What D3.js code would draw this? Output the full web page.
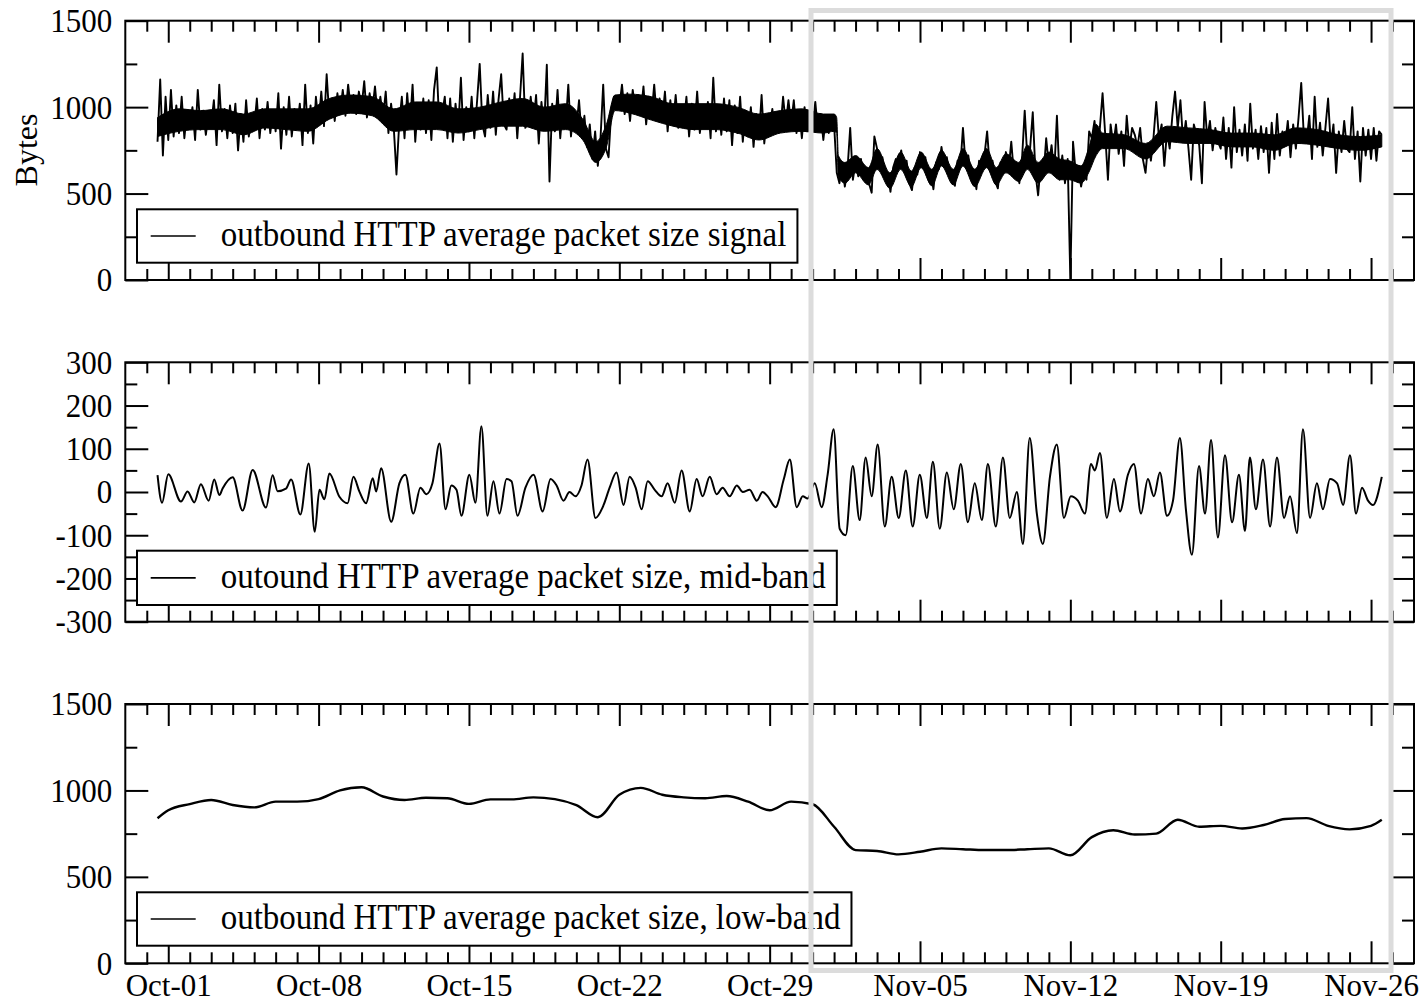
<!DOCTYPE html>
<html><head><meta charset="utf-8">
<script src="https://cdn.jsdelivr.net/npm/d3@7"></script>
<style>
body{margin:0;background:#fff;}
svg text{font-family:"Liberation Serif","Times New Roman",serif;}
svg text.stretch{transform-box:fill-box;transform-origin:center;transform:scaleY(1.1);}
</style></head><body>
<svg id="chart" width="1427" height="1003"></svg>
<script>
// ---------------- DATA ----------------
// x-axis range and ticks
const xStart = Date.UTC(2007, 8, 29);
const xEnd = Date.UTC(2007, 10, 28);
const xTickFormat = "%b-%d";

// top panel: outbound HTTP average packet size (bytes), 3-hour samples from Sep-30 12:00
const signalStart = Date.UTC(2007, 8, 30, 12);
const signalStepHours = 3;
const signalBytes = [
  800, 1160, 720, 1060,                         // Sep-30 pm
  810, 1100, 830, 1010, 850, 1060, 820, 980,    // Oct-01
  880, 1000, 810, 1100, 870, 980, 840, 960,     // Oct-02
  900, 1040, 780, 1130, 860, 990, 820, 1010,    // Oct-03
  850, 1020, 750, 960, 800, 1040, 830, 940,     // Oct-04
  880, 1050, 820, 990, 870, 1030, 850, 980,     // Oct-05
  860, 1080, 760, 1000, 840, 1060, 830, 990,    // Oct-06
  880, 1020, 780, 1130, 850, 1010, 790, 1060,   // Oct-07
  900, 1090, 890, 1190, 940, 1050, 920, 1080,   // Oct-08
  970, 1100, 950, 1130, 990, 1070, 960, 1090,   // Oct-09
  1000, 1150, 940, 1080, 980, 1120, 950, 1060,  // Oct-10
  940, 1090, 850, 1020, 880, 610, 900, 1060,    // Oct-11
  820, 1080, 880, 1130, 800, 1020, 870, 1050,   // Oct-12
  850, 1040, 810, 1100, 1230, 880, 960, 1060,   // Oct-13
  820, 1050, 800, 1020, 870, 1170, 810, 1000,   // Oct-14
  860, 1060, 820, 1030, 1250, 900, 830, 1070,   // Oct-15
  880, 1090, 840, 1040, 1190, 900, 870, 1050,   // Oct-16
  900, 1080, 820, 1050, 1310, 880, 910, 1060,   // Oct-17
  900, 1070, 790, 1030, 880, 1245, 570, 1020,   // Oct-18
  860, 1100, 820, 1010, 880, 1130, 830, 990,    // Oct-19
  880, 1040, 830, 950, 770, 900, 700, 860,      // Oct-20
  660, 820, 1130, 760, 710, 980, 1060, 1010,    // Oct-21
  1000, 1130, 960, 1080, 920, 1100, 980, 1070,  // Oct-22
  960, 1120, 900, 1060, 950, 1130, 930, 1050,   // Oct-23
  930, 1090, 860, 1040, 900, 1070, 880, 1010,   // Oct-24
  900, 1060, 830, 1020, 870, 1090, 850, 990,    // Oct-25
  880, 1030, 820, 1170, 860, 1010, 840, 1050,   // Oct-26
  860, 1040, 780, 1010, 850, 1060, 800, 980,    // Oct-27
  830, 1000, 770, 960, 820, 1070, 790, 950,     // Oct-28
  880, 990, 850, 960, 870, 1060, 900, 1040,     // Oct-29
  900, 1040, 850, 980, 820, 1000, 860, 990,     // Oct-30
  880, 1030, 860, 960, 810, 950, 850, 940,      // Oct-31
  900, 620, 560, 680, 540, 640, 880, 580,       // Nov-01
  680, 600, 700, 580, 640, 560, 505, 830,       // Nov-02
  760, 640, 710, 590, 620, 510, 650, 700,       // Nov-03
  660, 750, 640, 690, 560, 520, 650, 610,       // Nov-04
  740, 650, 710, 590, 630, 525, 680, 640,       // Nov-05
  770, 660, 710, 600, 620, 545, 690, 650,       // Nov-06
  880, 660, 720, 600, 640, 525, 690, 660,       // Nov-07
  720, 860, 650, 690, 570, 530, 680, 640,       // Nov-08
  740, 640, 800, 610, 660, 560, 700, 980,       // Nov-09
  700, 760, 970, 620, 490, 680, 600, 820,       // Nov-10
  660, 780, 620, 950, 580, 720, 560, 700,       // Nov-11
  0, 800, 620, 660, 540, 620, 580, 860,         // Nov-12
  820, 920, 760, 880, 1080, 840, 580, 900,      // Nov-13
  780, 900, 730, 860, 660, 950, 760, 880,       // Nov-14
  840, 770, 880, 700, 620, 790, 690, 830,       // Nov-15
  1030, 820, 900, 660, 860, 760, 950, 1090,     // Nov-16
  880, 1040, 800, 920, 760, 580, 900, 840,      // Nov-17
  780, 560, 1030, 820, 920, 750, 880, 800,      // Nov-18
  760, 940, 700, 880, 650, 1000, 740, 870,      // Nov-19
  720, 900, 690, 1020, 760, 870, 700, 890,      // Nov-20
  740, 880, 620, 910, 700, 960, 720, 860,       // Nov-21
  780, 920, 710, 900, 760, 940, 1140, 820,      // Nov-22
  800, 950, 700, 1060, 770, 910, 720, 880,      // Nov-23
  1050, 780, 900, 620, 860, 740, 920, 760,      // Nov-24
  740, 1000, 700, 860, 570, 880, 720, 870,      // Nov-25
  700, 880, 690, 860, 840                       // Nov-26 am
];

// top panel: dense core of the signal (days since Oct-01, low edge, high edge in bytes)
const signalCoreDay = [-0.5,0.5,1.5,2.5,3.5,4.5,5.5,6.5,7.5,8.5,9.5,10.5,11.5,12.5,13.5,14.5,15.5,16.5,17.5,18.5,19.3,19.9,20.4,20.8,
  21.5,22.5,23.5,24.5,25.5,26.5,27.5,28.5,29.5,30.5,31.0,31.12,31.2,31.5,32.0,32.6,33.0,33.6,34.1,34.6,35.05,35.55,36.0,36.55,
  37.0,37.55,38.1,38.55,39.0,39.6,40.0,40.5,41.0,41.5,41.95,42.5,42.85,43.2,43.5,44.5,45.5,46.5,47.5,48.5,49.5,50.5,51.5,52.5,
  53.5,54.5,55.5,56.5];
const signalCoreLow = [830,860,870,870,840,880,870,860,930,965,950,860,870,870,850,870,890,890,860,870,810,680,770,980,
  965,925,890,870,870,850,810,850,860,850,860,850,600,560,620,550,640,530,640,540,650,545,660,550,
  660,540,650,550,620,570,640,560,620,580,580,560,620,720,760,760,700,800,790,790,770,770,750,790,
  780,760,750,770];
const signalCoreHigh = [940,990,980,990,960,990,990,990,1050,1070,1060,990,1030,1030,990,1000,1030,1050,1000,1020,930,800,900,1070,
  1075,1060,1020,1020,1020,1000,960,980,990,960,960,940,720,680,720,650,760,620,740,630,740,640,750,640,
  760,640,760,650,730,680,780,680,740,700,690,660,760,900,850,840,790,890,880,870,850,850,840,880,
  870,840,830,840];

// middle panel: mid-band turning points (days since Oct-01, value)
const midBandDay = [-0.50,-0.29,0.00,0.59,0.90,1.21,1.52,1.88,2.14,2.38,2.53,3.00,3.46,3.93,4.55,4.86,5.09,5.48,5.72,6.15,
  6.54,6.82,7.04,7.27,7.50,7.97,8.35,8.62,8.90,9.21,9.52,9.68,9.91,10.38,
  10.76,11.04,11.41,11.74,12.02,12.30,12.63,12.91,13.18,13.42,13.65,14.02,14.30,14.58,14.86,15.14,15.42,15.75,15.98,16.26,
  16.63,17.01,17.43,17.80,18.08,18.40,18.68,18.96,19.24,19.52,19.89,20.27,20.55,20.87,21.20,21.48,21.76,22.04,22.32,22.65,
  22.97,23.25,23.58,23.90,24.28,24.60,24.88,25.21,25.53,25.81,26.14,26.47,26.75,27.07,27.40,27.67,27.91,28.28,28.66,28.94,
  29.26,29.54,29.77,30.10,30.42,30.70,30.98,31.26,31.54,31.87,32.19,32.47,32.75,33.03,33.36,33.68,34.01,34.34,34.66,34.99,
  35.32,35.60,35.92,36.25,36.57,36.90,37.23,37.55,37.88,38.16,38.53,38.86,39.18,39.51,39.79,40.11,40.44,40.72,41.05,41.37,
  41.70,42.02,42.35,42.68,42.96,43.14,43.38,43.70,44.03,44.31,44.68,44.96,45.29,45.61,45.89,46.17,46.50,46.78,47.10,47.38,
  47.66,47.99,48.27,48.55,48.87,49.20,49.53,49.85,50.13,50.36,50.64,50.97,51.30,51.62,51.95,52.23,52.55,52.83,53.16,53.48,
  53.76,54.09,54.42,54.70,55.02,55.30,55.58,55.86,56.09,56.50];
const midBandValue = [39,-25,41,-22,1,-24,18,-20,29,-7,8,34,-43,51,-36,39,2,8,29,-52,
  66,-92,5,-17,43,-11,-26,35,1,-26,32,1,55,-69,
  20,40,-50,10,-5,20,112,-40,15,5,-55,40,-25,152,-55,25,-50,30,25,-55,
  10,40,-45,30,15,-20,0,-10,15,75,-60,-30,10,45,-30,35,10,-40,25,5,
  -10,20,-25,50,-45,30,-10,35,-5,10,-10,15,0,5,-20,0,-10,-35,30,75,
  -35,-10,-15,20,-35,40,145,-85,-100,60,-65,80,-10,110,-80,35,-60,50,-80,40,
  -60,70,-85,45,-40,65,-70,20,-65,65,-80,80,-60,0,-120,125,-50,-120,35,110,
  -60,-10,-20,-50,65,50,90,-60,30,-45,40,65,-50,30,-10,45,-55,-20,125,-40,
  -145,60,-50,120,-105,85,-70,40,-90,80,-40,75,-80,80,-60,-10,-95,145,-60,20,
  -40,30,20,-30,85,-50,10,-20,-30,35];

// bottom panel: low-band, daily readings (days since Oct-01, bytes)
const lowBandDay = [-0.5,0,1,2,3,4,5,6,7,8,9,10,11,12,13,14,15,16,17,18,19,20,21,22,23,24,25,26,27,28,29,
  30,31,32,33,34,35,36,37,38,39,40,41,42,43,44,45,46,47,48,49,50,51,52,53,54,55,56,56.5];
const lowBandValue = [839,885,921,945,916,902,935,935,950,1000,1018,965,945,958,955,922,948,948,960,950,915,845,975,1015,975,960,955,968,935,885,935,
  920,790,655,650,630,645,665,660,655,655,660,665,625,730,770,745,750,830,790,795,780,800,835,840,795,775,795,830];

// axis ticks
const topTicksMajor = [0, 500, 1000, 1500], topTicksMinor = [250, 750, 1250];
const midTicksMajor = [-300, -200, -100, 0, 100, 200, 300], midTicksMinor = [-250, -150, -50, 50, 150, 250];
const lowTicksMajor = [0, 500, 1000, 1500], lowTicksMinor = [250, 750, 1250];
const legendLabels = ["outbound HTTP average packet size signal",
                      "outound HTTP average packet size, mid-band",
                      "outbound HTTP average packet size, low-band"];
const yAxisTitle = "Bytes";

// ---------------- LAYOUT ----------------
const L = 125.3, R = 1414;
const panelsLayout = [
  {top: 20.7, bottom: 280, domain: [0, 1500], major: topTicksMajor, minor: topTicksMinor, lgTop: 209.3, lgBottom: 262.7},
  {top: 362.3, bottom: 621.7, domain: [-300, 300], major: midTicksMajor, minor: midTicksMinor, lgTop: 550.7, lgBottom: 605},
  {top: 704, bottom: 963.3, domain: [0, 1500], major: lowTicksMajor, minor: lowTicksMinor, lgTop: 892.3, lgBottom: 945.7}
];
const FONT = '"Liberation Serif","Times New Roman",serif';

const svg = d3.select("#chart");
const x = d3.scaleUtc().domain([new Date(xStart), new Date(xEnd)]).range([L, R]);
const oct01 = Date.UTC(2007, 9, 1);
const dayMs = 86400000;
const dayToDate = d => new Date(oct01 + d * dayMs);

const mondays = d3.utcMonday.range(new Date(Date.UTC(2007, 9, 1)), new Date(Date.UTC(2007, 10, 27)));
const minorDays = d3.utcDay.range(new Date(Date.UTC(2007, 8, 30)), new Date(xEnd)).filter(d => d.getUTCDay() !== 1);

function styleAxis(g, stretch) {
  g.select(".domain").remove();
  g.selectAll(".tick line").attr("stroke", "#000").attr("stroke-width", 2);
  g.attr("font-family", FONT).attr("font-size", 31);
  g.selectAll(".tick text").attr("fill", "#000");
  if (stretch) g.selectAll(".tick text").attr("class", "stretch");
}

const ys = [];
panelsLayout.forEach((p, i) => {
  const y = d3.scaleLinear().domain(p.domain).range([p.bottom, p.top]);
  ys.push(y);
  const g = svg.append("g");
  g.append("g").attr("transform", `translate(0,${p.bottom})`)
    .call(d3.axisBottom(x).tickValues(minorDays).tickSize(-11).tickFormat(""))
    .call(a => styleAxis(a, false));
  g.append("g").attr("transform", `translate(0,${p.bottom})`)
    .call(d3.axisBottom(x).tickValues(mondays).tickSize(-22).tickPadding(10.3)
      .tickFormat(i === 2 ? d3.utcFormat(xTickFormat) : ""))
    .call(a => styleAxis(a, false));
  g.append("g").attr("transform", `translate(0,${p.top})`)
    .call(d3.axisTop(x).tickValues(minorDays).tickSize(-11).tickFormat(""))
    .call(a => styleAxis(a, false));
  g.append("g").attr("transform", `translate(0,${p.top})`)
    .call(d3.axisTop(x).tickValues(mondays).tickSize(-22).tickFormat(""))
    .call(a => styleAxis(a, false));
  g.append("g").attr("transform", `translate(${L},0)`)
    .call(d3.axisLeft(y).tickValues(p.minor).tickSize(-12).tickFormat(""))
    .call(a => styleAxis(a, false));
  g.append("g").attr("transform", `translate(${L},0)`)
    .call(d3.axisLeft(y).tickValues(p.major).tickSize(-23).tickPadding(13).tickFormat(d => String(d)))
    .call(a => styleAxis(a, true));
  g.append("g").attr("transform", `translate(${R},0)`)
    .call(d3.axisRight(y).tickValues(p.minor).tickSize(-12).tickFormat(""))
    .call(a => styleAxis(a, false));
  g.append("g").attr("transform", `translate(${R},0)`)
    .call(d3.axisRight(y).tickValues(p.major).tickSize(-23).tickFormat(""))
    .call(a => styleAxis(a, false));
  g.append("rect").attr("x", L).attr("y", p.top).attr("width", R - L).attr("height", p.bottom - p.top)
    .attr("fill", "none").attr("stroke", "#000").attr("stroke-width", 2);
});

// series: top signal (dense core + sample trace)
const corePts = signalCoreDay.map((d, i) => ({t: dayToDate(d), lo: signalCoreLow[i], hi: signalCoreHigh[i]}));
svg.append("path").datum(corePts)
  .attr("fill", "#000").attr("stroke", "#000").attr("stroke-width", 1)
  .attr("d", d3.area().curve(d3.curveMonotoneX).x(d => x(d.t)).y0(d => ys[0](d.lo)).y1(d => ys[0](d.hi)));
const signalPts = signalBytes.map((v, i) => ({t: new Date(signalStart + i * signalStepHours * 3600000), v}));
svg.append("path").datum(signalPts)
  .attr("fill", "none").attr("stroke", "#000").attr("stroke-width", 1.9).attr("stroke-linejoin", "round")
  .attr("d", d3.line().x(d => x(d.t)).y(d => ys[0](d.v)));

const midPts = midBandDay.map((d, i) => ({t: dayToDate(d), v: midBandValue[i]}));
svg.append("path").datum(midPts)
  .attr("fill", "none").attr("stroke", "#000").attr("stroke-width", 2)
  .attr("d", d3.line().curve(d3.curveMonotoneX).x(d => x(d.t)).y(d => ys[1](d.v)));

const lowPts = lowBandDay.map((d, i) => ({t: dayToDate(d), v: lowBandValue[i]}));
svg.append("path").datum(lowPts)
  .attr("fill", "none").attr("stroke", "#000").attr("stroke-width", 2.4)
  .attr("d", d3.line().curve(d3.curveMonotoneX).x(d => x(d.t)).y(d => ys[2](d.v)));

// legends
panelsLayout.forEach((p, i) => {
  const cy = (p.lgTop + p.lgBottom) / 2;
  const lg = svg.append("g");
  const box = lg.append("rect").attr("x", 137).attr("y", p.lgTop).attr("height", p.lgBottom - p.lgTop)
    .attr("fill", "#fff").attr("stroke", "#000").attr("stroke-width", 2);
  lg.append("line").attr("x1", 150.7).attr("x2", 195.7).attr("y1", cy).attr("y2", cy)
    .attr("stroke", "#000").attr("stroke-width", 1.6);
  const t = lg.append("text").attr("class", "stretch").attr("x", 220.7).attr("y", cy + 9)
    .attr("font-family", FONT).attr("font-size", 33).attr("fill", "#000").text(legendLabels[i]);
  const w = t.node().getComputedTextLength();
  box.attr("width", 220.7 + w + 11 - 137);
});

// y title
svg.append("text").attr("transform", "translate(37,150) rotate(-90)")
  .attr("text-anchor", "middle").attr("font-family", FONT).attr("font-size", 32).attr("fill", "#000")
  .text(yAxisTitle);

// highlight rectangle
svg.append("rect").attr("x", 811).attr("y", 10.5).attr("width", 580).attr("height", 960)
  .attr("fill", "none").attr("stroke", "#dcdcdc").attr("stroke-width", 5);
</script>
</body></html>
